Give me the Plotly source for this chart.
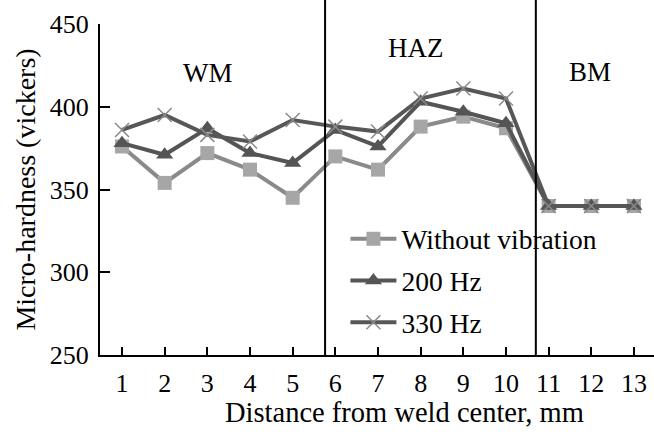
import plotly.graph_objects as go

x = list(range(1, 14))
without_vib = [376, 354, 372, 362, 345, 370, 362, 388, 394, 387, 340, 340, 340]
hz200 = [378, 371, 387, 372, 366, 386, 376, 403, 397, 390, 340, 340, 340]
hz330 = [386, 395, 383, 379, 392, 388, 385, 405, 411, 405, 340, 340, 340]
names = ["Without vibration", "200 Hz", "330 Hz"]
zone_bounds = [5.76, 10.7]
zone_labels = ["WM", "HAZ", "BM"]
zone_label_pos = [(3.02, 420.5), (7.89, 435.5), (11.97, 421)]
x_title = "Distance from weld center, mm"
y_title = "Micro-hardness (vickers)"

FONT = "Liberation Serif, Times New Roman, serif"

fig = go.Figure()
fig.add_trace(go.Scatter(
    x=x, y=without_vib, name=names[0], mode="lines+markers",
    line=dict(color="#8a8a8a", width=4),
    marker=dict(symbol="square", size=14, color="#a6a6a6"),
    legendgroup="a"))
fig.add_trace(go.Scatter(
    x=x, y=hz200, name=names[1], mode="lines+markers",
    line=dict(color="#555555", width=4),
    marker=dict(symbol="triangle-up", size=15, color="#555555"),
    legendgroup="b"))
fig.add_trace(go.Scatter(
    x=x, y=hz330, name=names[2], mode="lines+markers",
    line=dict(color="#575757", width=4),
    marker=dict(symbol="x-thin", size=14, line=dict(color="#8a8a8a", width=1.5)),
    legendgroup="c"))

for b in zone_bounds:
    fig.add_shape(type="line", x0=b, x1=b, y0=0, y1=1.08, xref="x", yref="paper",
                  line=dict(color="black", width=2))

for lab, (lx, ly) in zip(zone_labels, zone_label_pos):
    fig.add_annotation(x=lx, y=ly, text=lab, showarrow=False,
                       font=dict(family=FONT, size=27, color="black"))

fig.add_annotation(x=0.55, y=-0.175, xref="paper", yref="paper", text=x_title,
                   showarrow=False, xanchor="center", yanchor="middle",
                   font=dict(family=FONT, size=28.5, color="black"))

fig.update_layout(
    width=654, height=437,
    margin=dict(l=100, r=0, t=24, b=82),
    paper_bgcolor="white", plot_bgcolor="white",
    font=dict(family=FONT, size=26, color="black"),
    showlegend=True,
    legend=dict(x=0.443, y=0.425, xanchor="left", yanchor="top",
                bgcolor="rgba(0,0,0,0)", traceorder="grouped",
                tracegroupgap=3, itemwidth=46,
                font=dict(family=FONT, size=27.5, color="black")),
    xaxis=dict(range=[0.484, 13.47], tickmode="array", tickvals=x,
               ticks="inside", ticklen=8, tickwidth=2, tickcolor="black",
               showline=True, linecolor="black", linewidth=2,
               showgrid=False, zeroline=False, ticklabelstandoff=4,
               tickfont=dict(family=FONT, size=26)),
    yaxis=dict(range=[250, 450], tickvals=[250, 300, 350, 400, 450],
               ticks="inside", ticklen=10, tickwidth=2, tickcolor="black",
               showline=True, linecolor="black", linewidth=2,
               showgrid=False, zeroline=False, ticklabelstandoff=4,
               title=dict(text=y_title, standoff=6,
                          font=dict(family=FONT, size=28)),
               tickfont=dict(family=FONT, size=26)),
)

fig.write_html("out.html")
